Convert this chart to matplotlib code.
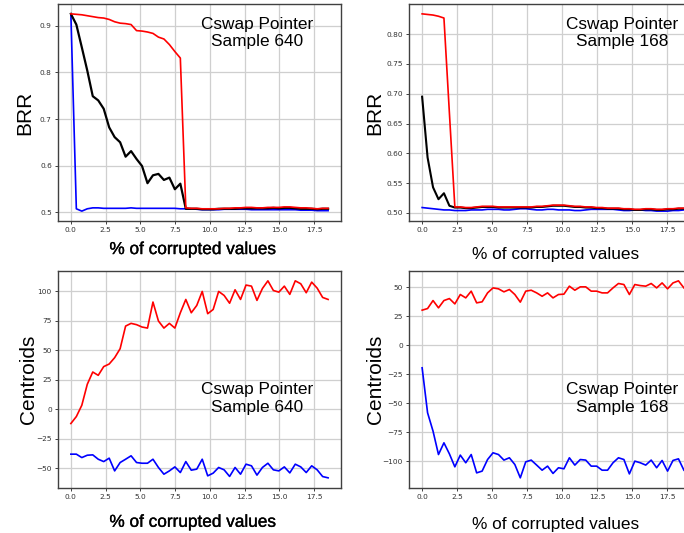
import numpy as np
import matplotlib
matplotlib.use("Agg")
import matplotlib.pyplot as plt
import matplotlib.patheffects as pe

# % of corrupted values (x grid of each experiment)
x_640 = np.linspace(0, 18.5, 48)
x_168 = np.linspace(0, 18.7, 49)

# ---- BRR, sample 640 ----
brr640_red = [0.926, 0.925, 0.924, 0.922, 0.920, 0.918, 0.917, 0.914, 0.909, 0.906,
              0.905, 0.903, 0.890, 0.889, 0.887, 0.884, 0.876, 0.872, 0.860, 0.845,
              0.831, 0.509, 0.508, 0.508, 0.507, 0.507, 0.507, 0.507, 0.508, 0.508,
              0.509, 0.509, 0.510, 0.510, 0.509, 0.509, 0.510, 0.510, 0.510, 0.511,
              0.511, 0.510, 0.509, 0.509, 0.508, 0.507, 0.508, 0.508]
brr640_black = [0.926, 0.903, 0.854, 0.804, 0.749, 0.740, 0.722, 0.682, 0.661, 0.650,
                0.619, 0.631, 0.614, 0.599, 0.562, 0.579, 0.582, 0.569, 0.574, 0.549,
                0.561, 0.507, 0.507, 0.507, 0.506, 0.506, 0.506, 0.507, 0.507, 0.507,
                0.507, 0.508, 0.508, 0.508, 0.508, 0.508, 0.508, 0.509, 0.508, 0.509,
                0.509, 0.508, 0.507, 0.507, 0.507, 0.506, 0.507, 0.507]
brr640_blue = [0.926, 0.507, 0.502, 0.507, 0.509, 0.509, 0.508, 0.508, 0.508, 0.508,
               0.508, 0.509, 0.508, 0.508, 0.508, 0.508, 0.508, 0.508, 0.508, 0.508,
               0.507, 0.507, 0.507, 0.506, 0.505, 0.505, 0.505, 0.505, 0.506, 0.506,
               0.506, 0.506, 0.506, 0.505, 0.505, 0.505, 0.505, 0.505, 0.505, 0.505,
               0.505, 0.505, 0.504, 0.504, 0.504, 0.503, 0.503, 0.503]

# ---- BRR, sample 168 ----
brr168_red = [0.834, 0.833, 0.832, 0.830, 0.827, 0.668,
              0.510, 0.510, 0.509, 0.509, 0.510, 0.511, 0.511, 0.511, 0.510, 0.510,
              0.510, 0.510, 0.510, 0.510, 0.510, 0.511, 0.511, 0.512, 0.513, 0.513,
              0.513, 0.512, 0.511, 0.511, 0.510, 0.510, 0.509, 0.509, 0.508, 0.508,
              0.508, 0.507, 0.507, 0.506, 0.506, 0.507, 0.507, 0.506, 0.506, 0.507,
              0.507, 0.508, 0.508]
brr168_black = [0.695, 0.593, 0.543, 0.523, 0.533, 0.512,
                0.509, 0.509, 0.508, 0.508, 0.509, 0.510, 0.510, 0.510, 0.509, 0.509,
                0.509, 0.509, 0.509, 0.509, 0.509, 0.510, 0.510, 0.511, 0.512, 0.512,
                0.512, 0.511, 0.510, 0.510, 0.509, 0.509, 0.508, 0.508, 0.507, 0.507,
                0.507, 0.506, 0.506, 0.505, 0.505, 0.506, 0.506, 0.505, 0.505, 0.506,
                0.506, 0.507, 0.507]
brr168_blue = [0.509, 0.508, 0.507, 0.506, 0.505, 0.505, 0.504, 0.504, 0.504, 0.505,
               0.505, 0.505, 0.506, 0.506, 0.506, 0.505, 0.505, 0.506, 0.507, 0.507,
               0.506, 0.505, 0.505, 0.506, 0.506, 0.505, 0.505, 0.505, 0.504, 0.504,
               0.505, 0.506, 0.506, 0.506, 0.506, 0.506, 0.505, 0.504, 0.504, 0.505,
               0.505, 0.504, 0.504, 0.503, 0.503, 0.503, 0.504, 0.504, 0.505]

# ---- Centroids, sample 640 ----
cen640_red = [-12.1, -6.2, 3.4, 21.2, 31.6, 28.8, 36.2, 38.4, 43.8, 51.4,
              70.6, 72.9, 71.8, 69.8, 68.9, 91.0, 74.9, 68.9, 72.9, 68.9,
              81.9, 93.2, 81.9, 88.1, 100.0, 81.1, 84.7, 100.0, 96.6, 90.0,
              101.4, 93.2, 105.4, 104.5, 92.4, 102.5, 109.0, 100.8, 99.4, 104.5,
              97.5, 109.0, 106.5, 98.9, 107.9, 102.8, 94.9, 93.2]
cen640_blue = [-38.1, -38.1, -41.0, -39.0, -38.7, -42.4, -44.4, -41.5, -52.3, -45.2,
               -42.4, -39.5, -45.2, -45.8, -45.8, -42.4, -49.4, -55.1, -52.3, -48.9,
               -53.7, -44.4, -51.7, -50.8, -42.4, -56.5, -54.2, -49.4, -51.4, -57.0,
               -49.4, -55.1, -46.6, -48.0, -55.9, -49.4, -45.8, -51.4, -52.3, -48.9,
               -54.0, -46.6, -48.9, -53.7, -48.0, -51.4, -57.1, -58.2]

# ---- Centroids, sample 168 ----
cen168_red = [30.2, 31.6, 38.5, 32.2, 38.5, 40.2, 35.6, 43.7, 40.8, 46.6,
              36.5, 37.4, 45.1, 49.4, 48.6, 46.0, 48.0, 43.7, 37.1, 46.6,
              47.4, 45.1, 42.2, 45.1, 40.8, 43.7, 44.0, 50.9, 47.4, 50.3,
              50.3, 46.6, 46.6, 45.1, 45.1, 49.4, 53.2, 52.3, 43.7, 52.3,
              51.4, 50.9, 53.2, 49.4, 53.7, 48.6, 53.7, 55.5, 49.4]
cen168_blue = [-19.5, -58.3, -74.1, -94.3, -84.2, -93.7, -104.9, -94.8, -101.4, -94.3,
               -110.1, -108.6, -98.6, -92.8, -94.3, -99.1, -97.1, -102.9, -114.4, -100.6,
               -99.1, -103.4, -107.8, -104.3, -110.6, -105.7, -106.6, -97.1, -103.4, -98.6,
               -99.1, -104.3, -104.3, -107.8, -107.8, -101.4, -97.1, -98.6, -111.0, -100.0,
               -101.4, -103.4, -99.1, -105.7, -99.4, -108.6, -99.4, -98.0, -107.8]

TXT_FONT = ["Liberation Sans", "DejaVu Sans"]


def style_axes(ax, ylabel, note, note_y, ylab_x, xlab_y, xlab_x=0.5, heavy=False):
    """Common look of the four panels"""
    ax.grid(True, color="#cfcfcf", linewidth=0.9)
    ax.set_axisbelow(True)
    for sp in ax.spines.values():
        sp.set_color("#404040")
        sp.set_linewidth(1.0)
    ax.tick_params(labelsize=5.3, length=2, width=0.7, pad=2.5,
                   colors="#404040", labelcolor="#333333")
    ax.set_ylabel(ylabel, fontsize=15, family=TXT_FONT)
    xl = ax.set_xlabel("% of corrupted values", fontsize=12.4, family=TXT_FONT)
    if heavy:
        # the left panels were rendered a bit heavier
        xl.set_path_effects([pe.withStroke(linewidth=0.25, foreground="black")])
    ax.yaxis.set_label_coords(ylab_x, 0.5)
    ax.xaxis.set_label_coords(xlab_x, xlab_y)
    ax.text(note[0], note_y, note[1], transform=ax.transAxes, ha="center",
            va="center", fontsize=12.4, family=TXT_FONT, linespacing=1.2)


fig = plt.figure(figsize=(6.84, 5.33), dpi=100)

# top left
ax1 = fig.add_axes([0.0848, 0.5854, 0.4137, 0.4071])
ax1.plot(x_640, brr640_blue, color="blue", lw=1.2)
ax1.plot(x_640, brr640_black, color="black", lw=1.6)
ax1.plot(x_640, brr640_red, color="red", lw=1.2)
ax1.set_yticks([0.5, 0.6, 0.7, 0.8, 0.9])
style_axes(ax1, "BRR", (0.705, "Cswap Pointer\nSample 640"), 0.866, -0.085, -0.097, 0.477,
           heavy=True)

# top right (cropped on the right in the reference)
ax2 = fig.add_axes([0.598, 0.5854, 0.421, 0.4071])
ax2.plot(x_168, brr168_blue, color="blue", lw=1.2)
ax2.plot(x_168, brr168_black, color="black", lw=1.5)
ax2.plot(x_168, brr168_red, color="red", lw=1.2)
ax2.set_yticks([0.50, 0.55, 0.60, 0.65, 0.70, 0.75, 0.80])
ax2.set_yticklabels(["0.50", "0.55", "0.60", "0.65", "0.70", "0.75", "0.80"])
style_axes(ax2, "BRR", (0.74, "Cswap Pointer\nSample 168"), 0.866, -0.085, -0.12, 0.51)

# bottom left
ax3 = fig.add_axes([0.0848, 0.085, 0.4137, 0.4066])
ax3.plot(x_640, cen640_red, color="red", lw=1.2)
ax3.plot(x_640, cen640_blue, color="blue", lw=1.2)
ax3.set_yticks([-50, -25, 0, 25, 50, 75, 100])
style_axes(ax3, "Centroids", (0.705, "Cswap Pointer\nSample 640"), 0.412, -0.07, -0.125, 0.477,
           heavy=True)

# bottom right
ax4 = fig.add_axes([0.598, 0.085, 0.421, 0.4066])
ax4.plot(x_168, cen168_red, color="red", lw=1.2)
ax4.plot(x_168, cen168_blue, color="blue", lw=1.2)
ax4.set_yticks([-100, -75, -50, -25, 0, 25, 50])
style_axes(ax4, "Centroids", (0.74, "Cswap Pointer\nSample 168"), 0.412, -0.085, -0.134, 0.51)

for ax in (ax1, ax2, ax3, ax4):
    ax.set_xticks([0, 2.5, 5, 7.5, 10, 12.5, 15, 17.5])

fig.savefig("out.png", dpi=100)
